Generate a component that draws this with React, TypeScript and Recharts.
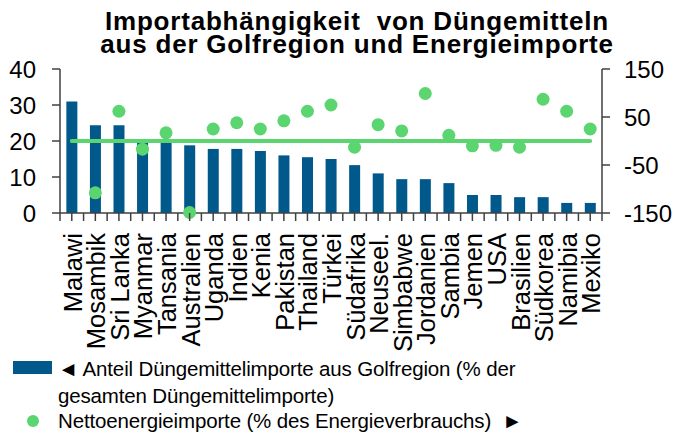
import React from "react";
import {
  Bar,
  ComposedChart,
  Line,
  ReferenceLine,
  XAxis,
  YAxis,
} from "recharts";

const countries = [
  "Malawi", "Mosambik", "Sri Lanka", "Myanmar", "Tansania", "Australien",
  "Uganda", "Indien", "Kenia", "Pakistan", "Thailand", "Türkei",
  "Südafrika", "Neuseel.", "Simbabwe", "Jordanien", "Sambia", "Jemen",
  "USA", "Brasilien", "Südkorea", "Namibia", "Mexiko",
];
const fertShare = [
  31, 24.4, 24.4, 20.2, 19.8, 18.8, 17.8, 17.8, 17.2, 16.0, 15.5, 15.0,
  13.3, 11.0, 9.4, 9.4, 8.3, 5.0, 5.0, 4.4, 4.4, 2.8, 2.8,
];
const energyImports: (number | null)[] = [
  null, -108, 62, -17, 17, -149, 25, 38, 25, 42, 62, 75,
  -13, 34, 21, 99, 12, -10, -9, -13, 87, 62, 25,
];
const leftTicks = [0, 10, 20, 30, 40];
const rightTicks = [-150, -50, 50, 150];

const data = countries.map((c, i) => ({
  country: c,
  fert: fertShare[i],
  energy: energyImports[i],
}));

const BLUE = "#00588b";
const GREEN = "#5ad56f";
const AXIS = "#404040";
const FONT = "'Liberation Sans', Arial, sans-serif";
const BAND = 542 / countries.length;

const CountryTick = (props: any) => {
  const { x, y, payload, index } = props;
  const top = y - 8;
  return (
    <g>
      <line x1={x - BAND / 2} y1={top} x2={x - BAND / 2} y2={top + 8} stroke={AXIS} strokeWidth={1.5} />
      <line x1={x} y1={top} x2={x} y2={top + 8} stroke={AXIS} strokeWidth={1.5} />
      {index === countries.length - 1 && (
        <line x1={x + BAND / 2} y1={top} x2={x + BAND / 2} y2={top + 8} stroke={AXIS} strokeWidth={1.5} />
      )}
      <text
        transform={`translate(${x + 10}, ${top + 20}) rotate(-90)`}
        textAnchor="end"
        fontSize={25.5}
        fontFamily={FONT}
        fill="#000"
      >
        {payload.value}
      </text>
    </g>
  );
};

const EnergyDot = (props: any) => {
  const { cx, cy, value, index } = props;
  if (value == null || cy == null) return <g key={`d${index}`} />;
  return <circle key={`d${index}`} cx={cx} cy={cy} r={6.5} fill={GREEN} />;
};

const legendText: React.CSSProperties = {
  position: "absolute",
  left: 58,
  fontSize: 20.5,
  lineHeight: "26px",
  letterSpacing: -0.15,
  whiteSpace: "pre",
};

export default function App() {
  return (
    <div style={{ position: "absolute", left: 0, top: 0, width: 677, height: 438, background: "#fff", fontFamily: FONT }}>
      <div
        style={{
          position: "absolute",
          left: 57,
          width: 600,
          top: 10,
          textAlign: "center",
          fontSize: 26,
          lineHeight: "23px",
          fontWeight: "bold",
          letterSpacing: 0.8,
          whiteSpace: "pre",
        }}
      >
        {"Importabhängigkeit  von Düngemitteln\naus der Golfregion und Energieimporte"}
      </div>

      <ComposedChart
        width={677}
        height={438}
        data={data}
        margin={{ top: 69, right: 0, left: 0, bottom: 0 }}
        barCategoryGap="27%"
      >
        <XAxis
          dataKey="country"
          height={225}
          interval={0}
          stroke={AXIS}
          strokeWidth={1.5}
          tickLine={false}
          tick={<CountryTick />}
        />
        <YAxis
          yAxisId="left"
          width={60}
          domain={[0, 40]}
          ticks={leftTicks}
          stroke={AXIS}
          strokeWidth={1.5}
          tickSize={8}
          tickMargin={16}
          tick={{ fill: "#000", fontSize: 24, fontFamily: FONT }}
        />
        <YAxis
          yAxisId="right"
          orientation="right"
          width={75}
          domain={[-150, 150]}
          ticks={rightTicks}
          stroke={AXIS}
          strokeWidth={1.5}
          tickSize={8}
          tickMargin={14}
          tick={{ fill: "#000", fontSize: 24, fontFamily: FONT, textAnchor: "start" }}
        />
        <Bar yAxisId="left" dataKey="fert" fill={BLUE} isAnimationActive={false} />
        <ReferenceLine
          yAxisId="right"
          segment={[
            { x: countries[0], y: 0 },
            { x: countries[countries.length - 1], y: 0 },
          ]}
          stroke={GREEN}
          strokeWidth={4}
          strokeLinecap="round"
        />
        <Line
          yAxisId="right"
          dataKey="energy"
          stroke="none"
          dot={EnergyDot}
          activeDot={false}
          isAnimationActive={false}
        />
      </ComposedChart>

      <div style={{ position: "absolute", left: 13, top: 361, width: 39, height: 13, background: BLUE }} />
      <div style={{ ...legendText, top: 356 }}>{"◄ Anteil Düngemittelimporte aus Golfregion (% der"}</div>
      <div style={{ ...legendText, top: 383 }}>gesamten Düngemittelimporte)</div>
      <div style={{ position: "absolute", left: 27, top: 415, width: 12, height: 12, borderRadius: 6, background: GREEN }} />
      <div style={{ ...legendText, top: 408 }}>{"Nettoenergieimporte (% des Energieverbrauchs)  ►"}</div>
    </div>
  );
}
